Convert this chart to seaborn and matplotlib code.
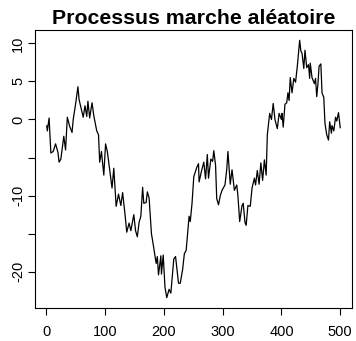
import matplotlib
matplotlib.use("Agg")
import matplotlib.pyplot as plt
import seaborn as sns
import pandas as pd

steps = [1, 2, 5, 8, 12, 16, 20, 22, 25, 30, 33, 36, 40, 44, 46, 50, 54, 56, 63, 66,
         69, 71, 74, 78, 81, 86, 89, 91, 94, 98, 101, 104, 108, 112, 115, 119, 123, 127, 130, 134,
         137, 141, 144, 149, 152, 155, 158, 161, 164, 166, 170, 172, 175, 179, 182, 187, 189, 191, 195, 196,
         199, 202, 205, 209, 212, 217, 220, 225, 228, 232, 235, 238, 243, 245, 248, 251, 256, 259, 260, 264,
         268, 271, 274, 276, 280, 283, 285, 288, 290, 293, 296, 299, 304, 307, 309, 313, 316, 320, 324, 326,
         329, 333, 335, 338, 340, 343, 347, 350, 354, 356, 359, 362, 365, 368, 371, 374, 376, 380, 383, 386,
         389, 393, 396, 400, 401, 403, 406, 409, 411, 413, 415, 418, 421, 424, 427, 431, 433, 435, 438, 440,
         443, 446, 448, 449, 452, 456, 458, 460, 462, 464, 467, 469, 472, 474, 477, 480, 482, 485, 486, 489,
         492, 494, 497, 500]
values = [-0.8, -1.5, 0.2, -4.4, -4.2, -3.2, -4.3, -5.6, -5.2, -2.2, -4.0, 0.3, -0.9, -1.7, 0.0, 2.0, 4.3, 2.6, 0.3, 1.8,
          0.4, 2.4, 0.2, 2.2, 0.5, -1.5, -2.0, -5.6, -4.2, -7.3, -3.2, -4.2, -6.6, -9.0, -6.4, -11.4, -9.8, -11.3, -9.6, -12.4,
          -14.8, -13.6, -14.6, -12.5, -14.6, -15.4, -13.5, -12.7, -8.9, -11.0, -10.9, -9.5, -10.3, -15.0, -16.4, -18.9, -18.0, -20.4, -17.9, -20.3,
          -17.8, -22.0, -23.4, -22.3, -22.8, -18.3, -18.0, -21.5, -21.5, -19.7, -17.6, -17.2, -12.7, -13.4, -11.0, -7.5, -6.3, -5.8, -8.2, -6.8,
          -5.6, -7.8, -4.6, -7.7, -5.2, -5.5, -4.1, -6.0, -10.4, -11.2, -10.0, -9.3, -8.6, -6.6, -4.2, -8.5, -6.6, -9.3, -8.6, -10.0,
          -13.4, -11.3, -11.0, -13.5, -13.9, -11.3, -11.4, -9.0, -7.7, -8.6, -6.7, -8.5, -5.7, -8.0, -5.3, -7.3, -2.0, 0.8, 0.0, 2.1,
          0.0, -1.2, 0.8, 0.0, 0.8, -1.0, 2.0, 2.2, 3.5, 2.5, 5.5, 3.5, 5.4, 4.9, 7.0, 10.4, 9.0, 8.7, 6.7, 9.1,
          6.8, 7.2, 5.4, 7.4, 5.5, 4.7, 5.4, 3.0, 4.6, 7.0, 7.3, 3.5, 2.9, -0.5, -2.0, -2.7, -0.3, -1.8, -0.8, -1.5,
          0.3, -0.2, 0.9, -1.1]
x_ticks = [0, 100, 200, 300, 400, 500]
y_ticks = [-20, -15, -10, -5, 0, 5, 10]
y_tick_labels = ["-20", "", "-10", "", "0", "5", "10"]
title = "Processus marche aléatoire"

sns.set_style("white")
plt.rcParams["font.family"] = ["Liberation Sans", "DejaVu Sans"]

fig = plt.figure(figsize=(3.56, 3.41), dpi=100)
ax = fig.add_axes([35 / 356, 1 - 308 / 341, (352 - 35) / 356, (308 - 30) / 341])

df = pd.DataFrame({"step": steps, "value": values})
sns.lineplot(data=df, x="step", y="value", color="black", linewidth=0.9, ax=ax)

span_x = 500 - 1
ax.set_xlim(1 - 0.04 * span_x, 500 + 0.04 * span_x)
ymin, ymax = min(values), max(values)
span_y = ymax - ymin
ax.set_ylim(ymin - 0.04 * span_y, ymax + 0.04 * span_y)

ax.set_xticks(x_ticks)
ax.set_xticklabels([str(t) for t in x_ticks])
ax.set_yticks(y_ticks)
ax.set_yticklabels(y_tick_labels, rotation=90, va="center")

ax.tick_params(axis="both", direction="out", length=5, width=0.8, color="black",
               labelsize=10.5, labelcolor="black")
ax.tick_params(axis="x", pad=7.5, bottom=True)
ax.tick_params(axis="y", pad=2, left=True)

for s in ax.spines.values():
    s.set_color("black")
    s.set_linewidth(0.8)
    s.set_visible(True)

ax.set_xlabel("")
ax.set_ylabel("")
ax.set_title(title, fontsize=15.3, fontweight="bold", pad=4, color="black")

fig.savefig("out.png", dpi=100)
